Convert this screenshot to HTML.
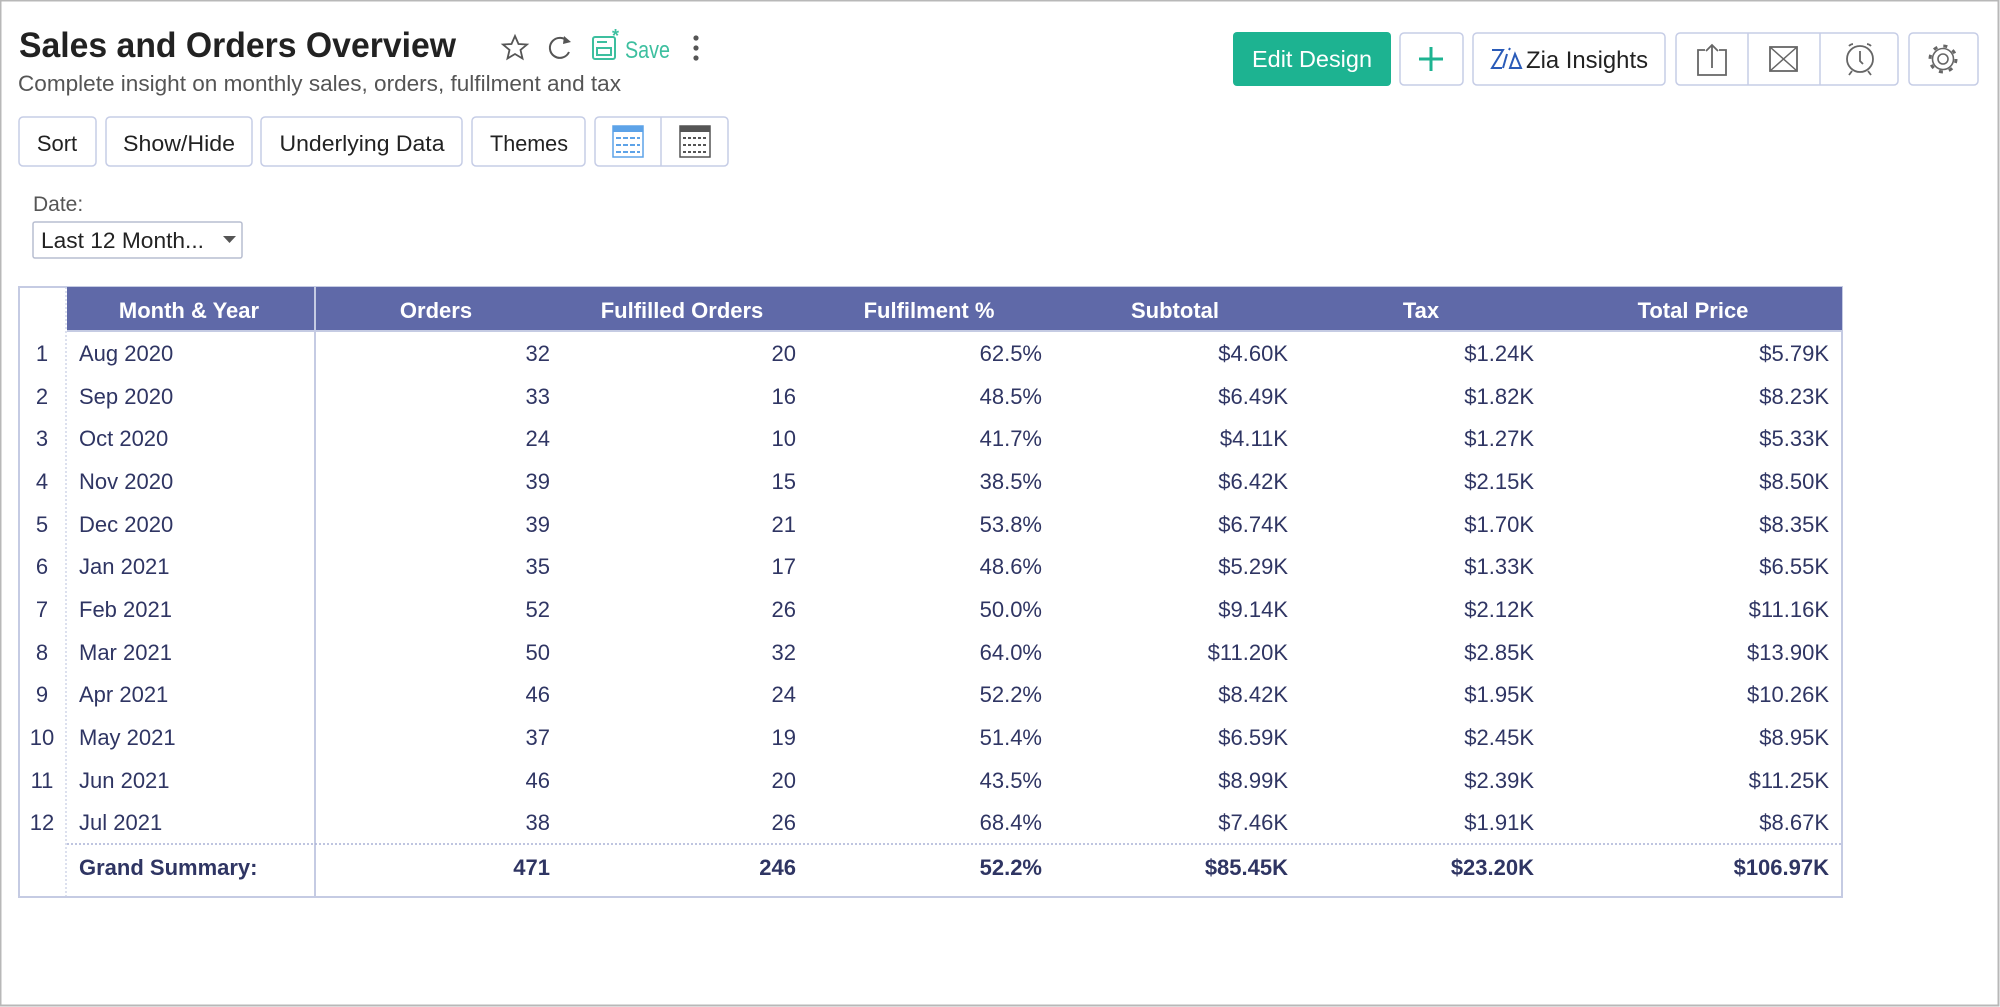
<!DOCTYPE html>
<html><head><meta charset="utf-8"><style>html,body{margin:0;padding:0;background:#fff}svg{display:block}</style></head>
<body>
<svg width="2000" height="1007" viewBox="0 0 2000 1007" xmlns="http://www.w3.org/2000/svg" font-family="Liberation Sans, sans-serif">
<rect x="0.5" y="0.5" width="1998" height="1005" fill="#fff" stroke="#b8b8b8" stroke-width="2"/>
<text x="19" y="57" font-size="35" font-weight="bold" fill="#222" textLength="437" lengthAdjust="spacingAndGlyphs">Sales and Orders Overview</text>
<text x="18" y="91" font-size="22" fill="#555" textLength="603" lengthAdjust="spacingAndGlyphs">Complete insight on monthly sales, orders, fulfilment and tax</text>
<polygon points="515,36 518.5,44 527,44.5 520.5,50 522.5,58.5 515,54 507.5,58.5 509.5,50 503,44.5 511.5,44" fill="none" stroke="#555" stroke-width="1.8"/>
<path d="M568,42 A10,10 0 1 0 569,52" fill="none" stroke="#555" stroke-width="2"/>
<polygon points="564,36 571,42 563,44" fill="#555"/>
<g stroke="#3dbf9f" stroke-width="2" fill="none">
<rect x="593" y="37" width="22" height="22" rx="2"/>
<rect x="597" y="48" width="14" height="7"/>
<line x1="597" y1="42" x2="607" y2="42"/>
</g>
<text x="612" y="42" font-size="18" font-weight="bold" fill="#3dbf9f">*</text>
<text x="625" y="58" font-size="24" fill="#3dbf9f" textLength="45" lengthAdjust="spacingAndGlyphs">Save</text>
<circle cx="696" cy="38" r="2.6" fill="#555"/><circle cx="696" cy="48" r="2.6" fill="#555"/><circle cx="696" cy="58" r="2.6" fill="#555"/>
<rect x="1233" y="32" width="158" height="54" rx="4" fill="#1db391"/>
<text x="1312" y="67" font-size="23" fill="#fff" text-anchor="middle" textLength="120" lengthAdjust="spacingAndGlyphs">Edit Design</text>
<g fill="#fff" stroke="#c6cde6" stroke-width="1.5">
<rect x="1400" y="33" width="63" height="52" rx="4"/>
<rect x="1473" y="33" width="192" height="52" rx="4"/>
<rect x="1676" y="33" width="222" height="52" rx="4"/>
<rect x="1909" y="33" width="69" height="52" rx="4"/>
</g>
<line x1="1748" y1="33" x2="1748" y2="85" stroke="#c6cde6" stroke-width="1.5"/>
<line x1="1820" y1="33" x2="1820" y2="85" stroke="#c6cde6" stroke-width="1.5"/>
<path d="M1431,47 V71 M1419,59 H1443" stroke="#1db391" stroke-width="3"/>
<path d="M1492,50 H1503 L1492,68 H1502 M1507,54 L1503,68 M1509,50 L1510,48 M1510,68 L1515,54 L1521,68 Z" fill="none" stroke="#2a5bb8" stroke-width="2"/>
<text x="1526" y="68" font-size="24" fill="#222" textLength="122" lengthAdjust="spacingAndGlyphs">Zia Insights</text>
<path d="M1705,50 H1698 V75 H1726 V50 H1719 M1712,68 V45 M1706,51 L1712,45 L1718,51" fill="none" stroke="#666" stroke-width="1.8"/>
<rect x="1770" y="47" width="27" height="24" fill="none" stroke="#666" stroke-width="1.8"/>
<path d="M1770,47 L1797,71 M1797,47 L1770,71" stroke="#666" stroke-width="1.5"/>
<circle cx="1860" cy="59" r="13" fill="none" stroke="#666" stroke-width="1.8"/>
<path d="M1860,51 V61 L1863,64 M1849,46 A6,6 0 0 1 1853,44 M1871,46 A6,6 0 0 0 1867,44 M1852,71 L1849,75 M1868,71 L1871,75" fill="none" stroke="#666" stroke-width="1.8"/>
<circle cx="1943" cy="59" r="5" fill="none" stroke="#666" stroke-width="1.6"/>
<circle cx="1943" cy="59" r="13" fill="none" stroke="#666" stroke-width="3" stroke-dasharray="4 6.2"/>
<circle cx="1943" cy="59" r="10.5" fill="none" stroke="#666" stroke-width="1.6"/>
<g fill="#fff" stroke="#c6cde6" stroke-width="1.5">
<rect x="19" y="117" width="77" height="49" rx="4"/>
<rect x="106" y="117" width="146" height="49" rx="4"/>
<rect x="261" y="117" width="201" height="49" rx="4"/>
<rect x="472" y="117" width="113" height="49" rx="4"/>
<rect x="595" y="117" width="133" height="49" rx="4"/>
</g>
<line x1="661" y1="117" x2="661" y2="166" stroke="#c6cde6" stroke-width="1.5"/>
<g font-size="22" fill="#222" text-anchor="middle">
<text x="57" y="151">Sort</text>
<text x="179" y="151" textLength="112" lengthAdjust="spacingAndGlyphs">Show/Hide</text>
<text x="362" y="151" textLength="165" lengthAdjust="spacingAndGlyphs">Underlying Data</text>
<text x="529" y="151" textLength="78" lengthAdjust="spacingAndGlyphs">Themes</text>
</g>
<rect x="613" y="126" width="30" height="31" fill="#fff" stroke="#5da3e8" stroke-width="1.5"/>
<rect x="613" y="126" width="30" height="6" fill="#5da3e8"/>
<path d="M616,138 H640 M616,145 H640 M616,152 H640" stroke="#5da3e8" stroke-width="2" stroke-dasharray="5 2"/>
<rect x="680" y="126" width="30" height="31" fill="#fff" stroke="#555" stroke-width="1.5"/>
<rect x="680" y="126" width="30" height="6" fill="#555"/>
<path d="M683,138 H707 M683,145 H707 M683,152 H707" stroke="#555" stroke-width="2" stroke-dasharray="3 2"/>
<text x="33" y="211" font-size="21" fill="#555">Date:</text>
<rect x="33" y="222" width="209" height="36" fill="#fff" stroke="#b7bdd0" stroke-width="1.5" rx="2"/>
<text x="41" y="248" font-size="22" fill="#222" textLength="163" lengthAdjust="spacingAndGlyphs">Last 12 Month...</text>
<polygon points="223,236 236,236 229.5,243" fill="#555"/>
<rect x="19" y="287" width="1823" height="610" fill="#fff" stroke="#c5cbe3" stroke-width="2"/>
<rect x="67" y="287" width="1775" height="44" fill="#5f69a8"/>
<line x1="67" y1="331" x2="1842" y2="331" stroke="#c5cbe3" stroke-width="2"/>
<line x1="315" y1="287" x2="315" y2="897" stroke="#c5cbe3" stroke-width="2"/>
<line x1="66" y1="287" x2="66" y2="897" stroke="#c5cbe3" stroke-width="1.2" stroke-dasharray="2 2"/>
<line x1="67" y1="844" x2="1842" y2="844" stroke="#aab2d6" stroke-width="1.5" stroke-dasharray="2 2"/>
<g font-size="22" font-weight="bold" fill="#fff" text-anchor="middle">
<text x="189" y="318">Month &amp; Year</text>
<text x="436" y="318">Orders</text>
<text x="682" y="318">Fulfilled Orders</text>
<text x="929" y="318">Fulfilment %</text>
<text x="1175" y="318">Subtotal</text>
<text x="1421" y="318">Tax</text>
<text x="1693" y="318">Total Price</text>
</g>
<g font-size="22" fill="#2f3563">
<g text-anchor="middle">
<text x="42" y="361">1</text><text x="42" y="404">2</text><text x="42" y="446">3</text><text x="42" y="489">4</text><text x="42" y="532">5</text><text x="42" y="574">6</text><text x="42" y="617">7</text><text x="42" y="660">8</text><text x="42" y="702">9</text><text x="42" y="745">10</text><text x="42" y="788">11</text><text x="42" y="830">12</text>
</g>
<g>
<text x="79" y="361">Aug 2020</text><text x="79" y="404">Sep 2020</text><text x="79" y="446">Oct 2020</text><text x="79" y="489">Nov 2020</text><text x="79" y="532">Dec 2020</text><text x="79" y="574">Jan 2021</text><text x="79" y="617">Feb 2021</text><text x="79" y="660">Mar 2021</text><text x="79" y="702">Apr 2021</text><text x="79" y="745">May 2021</text><text x="79" y="788">Jun 2021</text><text x="79" y="830">Jul 2021</text>
</g>
<g text-anchor="end">
<text x="550" y="361">32</text><text x="550" y="404">33</text><text x="550" y="446">24</text><text x="550" y="489">39</text><text x="550" y="532">39</text><text x="550" y="574">35</text><text x="550" y="617">52</text><text x="550" y="660">50</text><text x="550" y="702">46</text><text x="550" y="745">37</text><text x="550" y="788">46</text><text x="550" y="830">38</text>
<text x="796" y="361">20</text><text x="796" y="404">16</text><text x="796" y="446">10</text><text x="796" y="489">15</text><text x="796" y="532">21</text><text x="796" y="574">17</text><text x="796" y="617">26</text><text x="796" y="660">32</text><text x="796" y="702">24</text><text x="796" y="745">19</text><text x="796" y="788">20</text><text x="796" y="830">26</text>
<text x="1042" y="361">62.5%</text><text x="1042" y="404">48.5%</text><text x="1042" y="446">41.7%</text><text x="1042" y="489">38.5%</text><text x="1042" y="532">53.8%</text><text x="1042" y="574">48.6%</text><text x="1042" y="617">50.0%</text><text x="1042" y="660">64.0%</text><text x="1042" y="702">52.2%</text><text x="1042" y="745">51.4%</text><text x="1042" y="788">43.5%</text><text x="1042" y="830">68.4%</text>
<text x="1288" y="361">$4.60K</text><text x="1288" y="404">$6.49K</text><text x="1288" y="446">$4.11K</text><text x="1288" y="489">$6.42K</text><text x="1288" y="532">$6.74K</text><text x="1288" y="574">$5.29K</text><text x="1288" y="617">$9.14K</text><text x="1288" y="660">$11.20K</text><text x="1288" y="702">$8.42K</text><text x="1288" y="745">$6.59K</text><text x="1288" y="788">$8.99K</text><text x="1288" y="830">$7.46K</text>
<text x="1534" y="361">$1.24K</text><text x="1534" y="404">$1.82K</text><text x="1534" y="446">$1.27K</text><text x="1534" y="489">$2.15K</text><text x="1534" y="532">$1.70K</text><text x="1534" y="574">$1.33K</text><text x="1534" y="617">$2.12K</text><text x="1534" y="660">$2.85K</text><text x="1534" y="702">$1.95K</text><text x="1534" y="745">$2.45K</text><text x="1534" y="788">$2.39K</text><text x="1534" y="830">$1.91K</text>
<text x="1829" y="361">$5.79K</text><text x="1829" y="404">$8.23K</text><text x="1829" y="446">$5.33K</text><text x="1829" y="489">$8.50K</text><text x="1829" y="532">$8.35K</text><text x="1829" y="574">$6.55K</text><text x="1829" y="617">$11.16K</text><text x="1829" y="660">$13.90K</text><text x="1829" y="702">$10.26K</text><text x="1829" y="745">$8.95K</text><text x="1829" y="788">$11.25K</text><text x="1829" y="830">$8.67K</text>
</g>
<g font-weight="bold">
<text x="79" y="875">Grand Summary:</text>
<g text-anchor="end">
<text x="550" y="875">471</text><text x="796" y="875">246</text><text x="1042" y="875">52.2%</text><text x="1288" y="875">$85.45K</text><text x="1534" y="875">$23.20K</text><text x="1829" y="875">$106.97K</text>
</g></g>
</g>
</svg>
</body></html>
